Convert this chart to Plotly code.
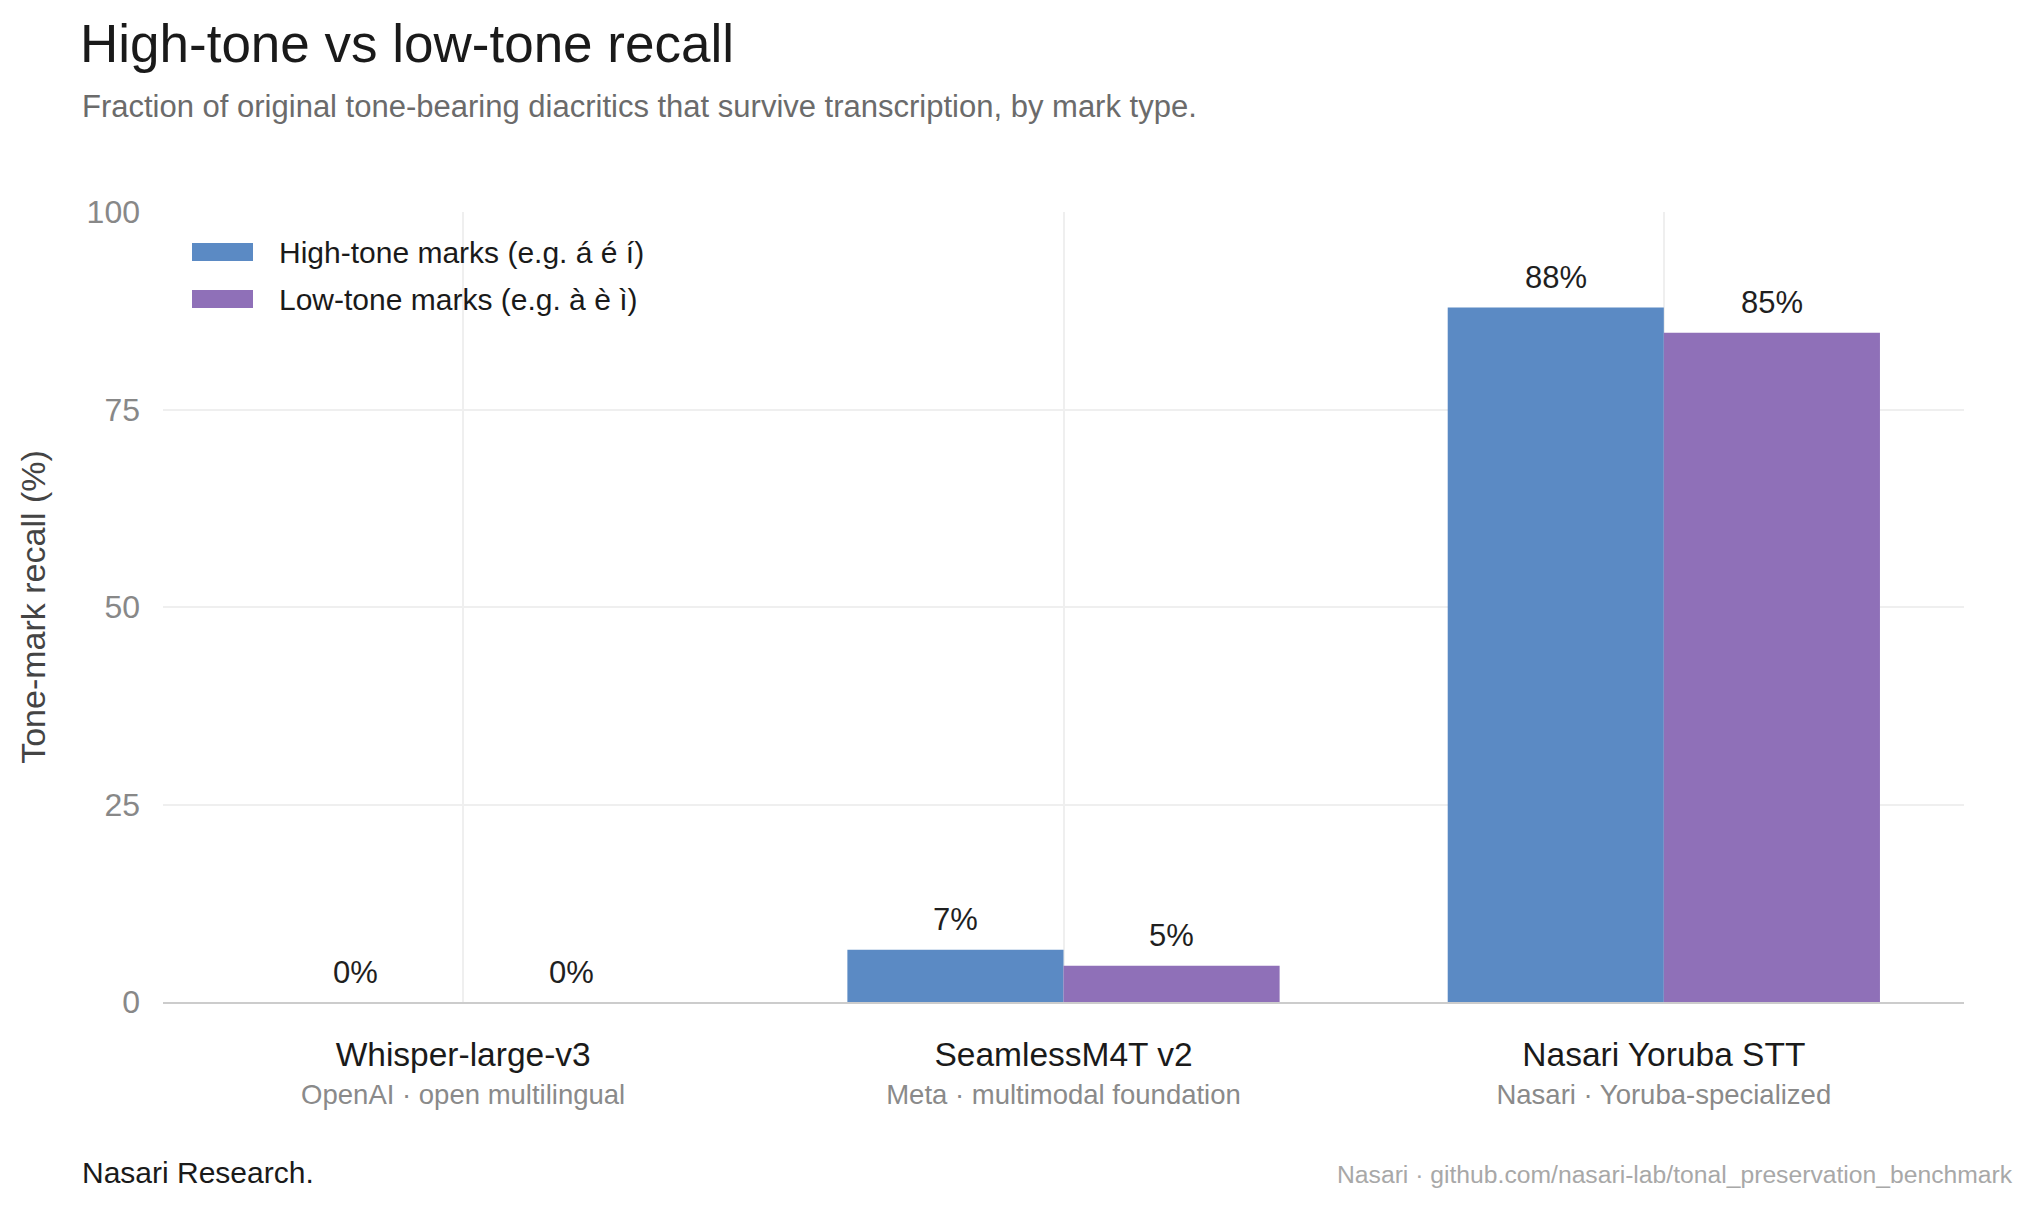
import plotly.graph_objects as go

# ---- data ----
models = ["Whisper-large-v3", "SeamlessM4T v2", "Nasari Yoruba STT"]
model_notes = ["OpenAI · open multilingual", "Meta · multimodal foundation", "Nasari · Yoruba-specialized"]
high_tone = [0.0, 6.6, 87.9]
low_tone = [0.0, 4.6, 84.7]
series_names = ["High-tone marks (e.g. á é í)", "Low-tone marks (e.g. à è ì)"]
y_ticks = [0, 25, 50, 75, 100]

BLUE = "#5B8AC4"
PURPLE = "#8F70B8"
COLORS = [BLUE, PURPLE]
FONT = "Liberation Sans, Arial, Helvetica, sans-serif"

L, R, T, B = 163, 72, 212, 208
W, H = 2036, 1210
pw, ph = W - L - R, H - T - B


def px_x(x):
    return (x - L) / pw


def px_y(y):
    return (H - B - y) / ph


fig = go.Figure()
for name, vals, col in zip(series_names, [high_tone, low_tone], COLORS):
    fig.add_trace(go.Bar(
        x=models, y=vals, name=name, marker=dict(color=col, line=dict(width=0)),
        hoverinfo="skip", showlegend=False,
    ))

# value labels above bars
half = 0.18
for i, m in enumerate(models):
    for off, vals in [(-half, high_tone), (half, low_tone)]:
        fig.add_annotation(
            x=i + off, y=vals[i], xref="x", yref="y",
            text=f"{vals[i]:.0f}%", showarrow=False,
            yanchor="middle", yshift=30,
            font=dict(size=31, color="#1f1f1f", family=FONT),
        )

# legend (swatches + labels)
leg_rows = [252, 299]
for name, col, yc in zip(series_names, COLORS, leg_rows):
    fig.add_shape(
        type="rect", xref="paper", yref="paper",
        x0=px_x(192), x1=px_x(253), y0=px_y(yc + 9), y1=px_y(yc - 9),
        fillcolor=col, line=dict(width=0),
    )
    fig.add_annotation(
        text=name, xref="paper", yref="paper", x=px_x(277), y=px_y(yc),
        xanchor="left", yanchor="middle", showarrow=False,
        font=dict(size=30, color="#1a1a1a", family=FONT),
    )

ticktext = [f"<span style='font-size:33.5px;color:#1a1a1a'>{m}</span><br><span style='font-size:27.5px;color:#8a8a8a'>{n}</span>"
            for m, n in zip(models, model_notes)]

fig.update_layout(
    width=W, height=H,
    margin=dict(l=L, r=R, t=T, b=B),
    paper_bgcolor="white", plot_bgcolor="white",
    font=dict(family=FONT, color="#1a1a1a"),
    barmode="group", bargap=0.28, bargroupgap=0.0,
    showlegend=False,
    title=dict(
        text="High-tone vs low-tone recall",
        font=dict(size=53, color="#1a1a1a", family=FONT),
        x=80 / W, xref="container", xanchor="left",
        y=1 - 43 / H, yref="container", yanchor="middle",
    ),
    xaxis=dict(
        tickmode="array", tickvals=models, ticktext=ticktext,
        tickfont=dict(size=29, family=FONT),
        showgrid=True, gridcolor="#efefef", gridwidth=2,
        showline=True, linecolor="#cccccc", linewidth=2,
        ticks="", ticklabelstandoff=27, zeroline=False,
        fixedrange=True,
    ),
    yaxis=dict(
        range=[0, 100], tickvals=y_ticks,
        tickfont=dict(size=32, color="#888888", family=FONT),
        showgrid=True, gridcolor="#efefef", gridwidth=2,
        zeroline=False, showline=False, ticks="", ticklabelstandoff=22,
        title=dict(text="Tone-mark recall (%)", font=dict(size=34, color="#444444", family=FONT), standoff=30),
        fixedrange=True,
    ),
)

# subtitle and footers
fig.add_annotation(
    text="Fraction of original tone-bearing diacritics that survive transcription, by mark type.",
    xref="paper", yref="paper", x=px_x(80), y=px_y(107),
    xanchor="left", yanchor="middle", showarrow=False,
    font=dict(size=31, color="#6b6b6b", family=FONT),
)
fig.add_annotation(
    text="Nasari Research.",
    xref="paper", yref="paper", x=px_x(80), y=px_y(1172),
    xanchor="left", yanchor="middle", showarrow=False,
    font=dict(size=30, color="#1a1a1a", family=FONT),
)
fig.add_annotation(
    text="Nasari · github.com/nasari-lab/tonal_preservation_benchmark",
    xref="paper", yref="paper", x=px_x(2015), y=px_y(1174),
    xanchor="right", yanchor="middle", showarrow=False,
    font=dict(size=24.7, color="#a8a8a8", family=FONT),
)

fig.write_html("out.html", config={"displayModeBar": False})
